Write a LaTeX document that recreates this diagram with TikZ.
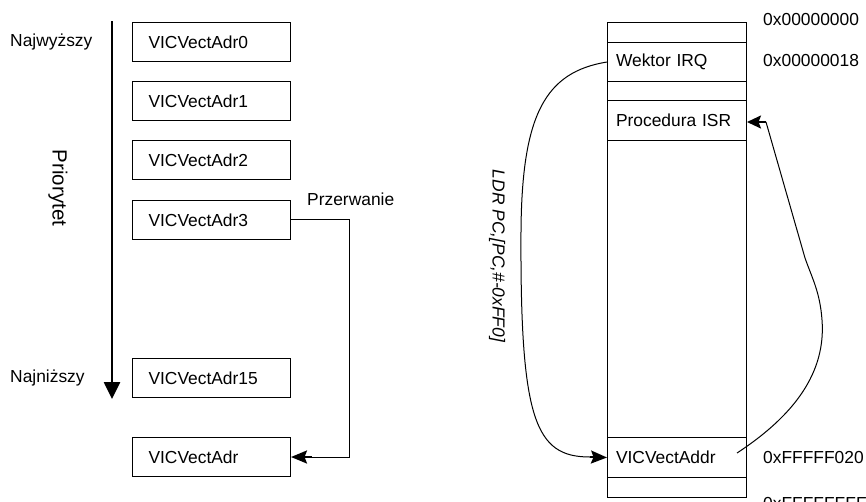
\documentclass[tikz,border=0pt]{standalone}
\usepackage{fontspec}
\setmainfont{Liberation Sans}
\usetikzlibrary{arrows.meta}
\begin{document}
\begin{tikzpicture}[x=1pt,y=-1pt,
  every node/.style={font=\fontsize{17.4}{20}\selectfont},
  vbox/.style={draw, line width=1pt, minimum width=158pt, minimum height=39pt,
    text width=126pt, inner xsep=16pt, inner ysep=0pt, align=left, anchor=north west},
  mrow/.style={draw, line width=1pt, minimum width=139pt, text width=122pt,
    inner xsep=8.5pt, inner ysep=0pt, align=left, anchor=north west},
  lbl/.style={anchor=west, inner sep=0pt},
  conn/.style={line width=1pt},
  tipS/.style={-{Stealth[length=16pt,width=13pt,inset=2.5pt]}}]
\useasboundingbox (0,0) rectangle (866,501);
% left column
\node[vbox] (v0) at (132,22) {VICVectAdr0};
\node[vbox] (v1) at (132,81) {VICVectAdr1};
\node[vbox] (v2) at (132,140) {VICVectAdr2};
\node[vbox] (v3) at (132,200) {VICVectAdr3};
\node[vbox] (v15) at (132,358) {VICVectAdr15};
\node[vbox] (va) at (132,437) {VICVectAdr};
\node[lbl] (hi) at (10,42) {Najwyższy};
\node[lbl] (lo) at (10,378) {Najniższy};
\node[font=\fontsize{20.5}{24}\selectfont, rotate=-90, inner sep=0pt] (prio) at (58,188) {Priorytet};
\coordinate (ptop) at (112,21);
\coordinate (pbot) at (112,399);
\draw[line width=2.6pt, -{Triangle[length=17pt,width=16pt]}] (ptop) -- (pbot);
\node[lbl] (przer) at (307,199) {Przerwanie};
\coordinate (k1) at (349,219);
\coordinate (k2) at (349,457);
\coordinate (k3) at (312,457);
\draw[conn] (v3.east |- k1) -- (k1) -- (k2) -- (k3);
\draw[line width=2.2pt, tipS] (k3) -- (va.east |- k3);
% memory map
\node[mrow, minimum height=20pt] (m0) at (607,22) {};
\node[mrow, minimum height=39pt] (m1) at (607,42) {Wektor IRQ};
\node[mrow, minimum height=19pt] (m2) at (607,81) {};
\node[mrow, minimum height=40pt] (m3) at (607,100) {Procedura ISR};
\node[mrow, minimum height=297pt] (m4) at (607,140) {};
\node[mrow, minimum height=40pt] (m5) at (607,437) {VICVectAddr};
\node[mrow, minimum height=20pt] (m6) at (607,477) {};
\node[lbl] (a0) at (763,20) {0x00000000};
\node[lbl] (a1) at (763,61) {0x00000018};
\node[lbl] (a2) at (763,457) {0xFFFFF020};
\node[lbl] (a3) at (763,503) {0xFFFFFFFF};
% LDR curve
\coordinate (c1) at (521,230);
\coordinate (c2) at (590,457);
\draw[conn] (m1.west) .. controls (545,72) and (522,115) .. (c1)
  .. controls (520,420) and (535,457) .. (c2);
\draw[line width=1.8pt, tipS] (c2) -- (m5.west);
\node[font=\fontsize{17.4}{20}\selectfont\itshape, rotate=-90, inner sep=0pt] (ldr) at (497,256) {LDR PC,[PC,\#-0xFF0]};
% ISR curve
\coordinate (r0) at (737,453);
\coordinate (r1) at (822,320);
\coordinate (r2) at (805,258);
\coordinate (r3) at (766,122);
\draw[conn] (r0) .. controls (795,415) and (826,372) .. (r1)
  .. controls (820,292) and (812,278) .. (r2) -- (r3);
\draw[line width=2.2pt, -{Stealth[length=14pt,width=13pt,inset=2.5pt]}] (r3) -- (m3.east |- r3);
\end{tikzpicture}
\end{document}
